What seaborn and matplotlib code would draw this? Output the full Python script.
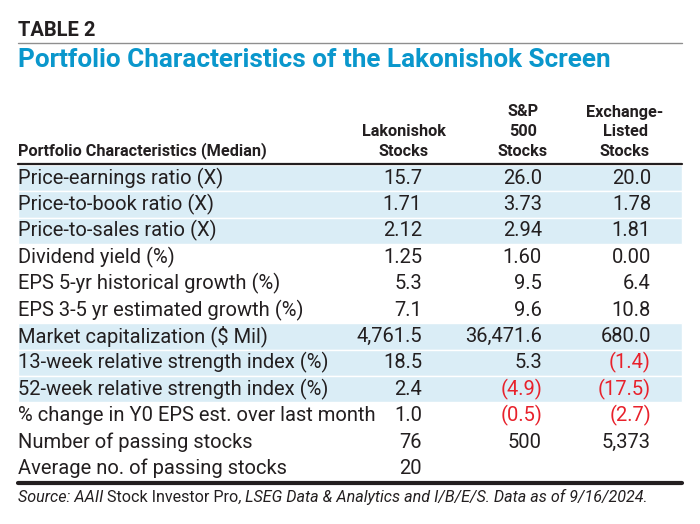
import matplotlib
matplotlib.use("Agg")
import matplotlib.pyplot as plt
import seaborn as sns

sns.set_theme(style="white")
plt.rcParams["font.family"] = ["Roboto", "DejaVu Sans"]

# data
row_labels = [
    "Price-earnings ratio (X)",
    "Price-to-book ratio (X)",
    "Price-to-sales ratio (X)",
    "Dividend yield (%)",
    "EPS 5-yr historical growth (%)",
    "EPS 3-5 yr estimated growth (%)",
    "Market capitalization ($ Mil)",
    "13-week relative strength index (%)",
    "52-week relative strength index (%)",
    "% change in Y0 EPS est. over last month",
    "Number of passing stocks",
    "Average no. of passing stocks",
]
decimals = [1, 2, 2, 2, 1, 1, 1, 1, 1, 1, 0, 0]
lakonishok = [15.7, 1.71, 2.12, 1.25, 5.3, 7.1, 4761.5, 18.5, 2.4, 1.0, 76, 20]
sp500 = [26.0, 3.73, 2.94, 1.60, 9.5, 9.6, 36471.6, 5.3, -4.9, -0.5, 500, None]
exchange = [20.0, 1.78, 1.81, 0.00, 6.4, 10.8, 680.0, -1.4, -17.5, -2.7, 5373, None]
col_headers = [["Lakonishok", "Stocks"], ["S&P", "500", "Stocks"], ["Exchange-", "Listed", "Stocks"]]
shaded_rows = [0, 1, 2, 6, 7, 8]

DARK = "#231f20"
BLUE = "#0a97cc"
RED = "#e8212b"
SHADE = "#daedf6"

fig = plt.figure(figsize=(7, 5.24), dpi=100)
ax = fig.add_axes([0, 0, 1, 1])
ax.set_xlim(0, 700)
ax.set_ylim(524, 0)
ax.axis("off")
renderer = fig.canvas.get_renderer()


def fit(t, width):
    w = t.get_window_extent(renderer).width
    t.set_fontsize(t.get_fontsize() * width / w)
    return t.get_fontsize()


L, R = 18, 682
ROW0, PITCH = 178, 26.4
ys = [ROW0 + i * PITCH for i in range(len(row_labels))]

# titles
t = ax.text(L, 30, "TABLE 2", fontsize=14, fontweight="bold", color=DARK, va="center")
fit(t, 78)
ax.plot([L, R], [43, 43], color="#8f8f8f", lw=1)
t = ax.text(L, 60, "Portfolio Characteristics of the Lakonishok Screen", fontsize=16,
            fontweight="bold", color=BLUE, va="center")
fit(t, 596)

# header
t = ax.text(L, 151, "Portfolio Characteristics (Median)", fontsize=11, fontweight="bold",
            color=DARK, va="center")
hsize = fit(t, 250)
col_centers = [404, 523, 625]
col_rights = [422, 542, 651]
line_y = [112, 131, 151]
for cx, lines in zip(col_centers, col_headers):
    for ly, s in zip(line_y[3 - len(lines):], lines):
        ax.text(cx, ly, s, fontsize=hsize, fontweight="bold", color=DARK, ha="center", va="center")

# shaded bands
ax.barh([ys[i] for i in shaded_rows], R - L, left=L, height=PITCH, color=SHADE, zorder=0)
ax.plot([L, R], [164, 164], color=DARK, lw=1.6)
ax.plot([L, R], [ys[-1] + PITCH / 2 + 1, ys[-1] + PITCH / 2 + 1], color=DARK, lw=3)

# rows
t = ax.text(L, ys[9], row_labels[9], fontsize=13, color=DARK, va="center")
rsize = fit(t, 358)
t.remove()


def fmt(v, d):
    s = f"{abs(v):,.{d}f}"
    return (f"({s})", RED) if v < 0 else (s, DARK)


for i, lab in enumerate(row_labels):
    ax.text(L, ys[i], lab, fontsize=rsize, color=DARK, va="center")
    for x, col in zip(col_rights, [lakonishok, sp500, exchange]):
        v = col[i]
        if v is None:
            continue
        s, c = fmt(v, decimals[i])
        ax.text(x, ys[i], s, fontsize=rsize, color=c, ha="right", va="center")

# source line, mixed italic
parts = [("Source: AAII ", "italic"), ("Stock Investor Pro", "normal"),
         (", LSEG Data & Analytics and I/B/E/S. Data as of 9/16/2024.", "italic")]
texts = [ax.text(0, 497, s, fontsize=10.5, style=st, color=DARK, va="center") for s, st in parts]
total = sum(tx.get_window_extent(renderer).width for tx in texts)
scale = 632 / total
x = L
for tx in texts:
    tx.set_fontsize(10.5 * scale)
    tx.set_x(x)
    x += tx.get_window_extent(renderer).width

fig.savefig("out.png", dpi=100)
